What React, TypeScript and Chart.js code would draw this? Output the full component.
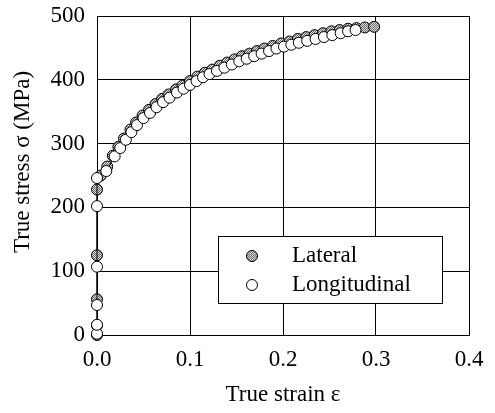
import React, { useEffect, useRef } from "react";
import { Chart, registerables } from "chart.js";

Chart.register(...registerables);

const latStrain = [0, 0, 0, 0, 0, 0.004, 0.011, 0.017, 0.023, 0.029, 0.036, 0.042, 0.049, 0.056, 0.063, 0.07, 0.077, 0.085, 0.092, 0.1, 0.108, 0.116, 0.124, 0.132, 0.14, 0.148, 0.156, 0.164, 0.172, 0.18, 0.189, 0.198, 0.207, 0.216, 0.225, 0.234, 0.243, 0.252, 0.261, 0.27, 0.279, 0.288, 0.298];
const latStress = [0, 15, 56, 125, 228, 250, 264, 281, 295, 308, 322, 333, 344, 353, 362, 370, 377, 385, 391, 398, 405, 411, 416, 422, 427, 432, 437, 441, 445, 449, 453, 457, 460, 464, 467, 470, 473, 476, 478, 480, 481, 482, 483];

const longStrain = [0, 0, 0, 0, 0, 0, 0.01, 0.019, 0.025, 0.031, 0.037, 0.043, 0.05, 0.057, 0.064, 0.071, 0.078, 0.086, 0.093, 0.1, 0.107, 0.114, 0.121, 0.129, 0.137, 0.145, 0.153, 0.161, 0.169, 0.177, 0.185, 0.193, 0.201, 0.209, 0.217, 0.226, 0.235, 0.244, 0.253, 0.262, 0.27, 0.278];
const longStress = [2, 16, 47, 107, 202, 246, 257, 280, 293, 306, 318, 329, 340, 348, 357, 365, 372, 380, 386, 392, 398, 404, 409, 414, 419, 424, 429, 433, 437, 441, 445, 449, 452, 455, 458, 461, 464, 467, 470, 473, 476, 478];

const seriesLabels = ["Lateral", "Longitudinal"];
const xTicks = [0, 0.1, 0.2, 0.3, 0.4];
const yTicks = [0, 100, 200, 300, 400, 500];
const xTitle = "True strain ε";
const yTitle = "True stress σ (MPa)";

const FONT = "'Liberation Serif', 'Times New Roman', serif";
const FS = 23;

function makeStipple(): CanvasPattern | string {
  const c = document.createElement("canvas");
  c.width = 2;
  c.height = 2;
  const g = c.getContext("2d");
  if (!g) return "#aaa";
  g.fillStyle = "#dcdcdc";
  g.fillRect(0, 0, 2, 2);
  g.fillStyle = "#6a6a6a";
  g.fillRect(0, 0, 1, 1);
  g.fillRect(1, 1, 1, 1);
  const p = g.createPattern(c, "repeat");
  return p || "#aaa";
}

export default function App() {
  const ref = useRef<HTMLCanvasElement>(null);
  useEffect(() => {
    if (!ref.current) return;
    const stipple = makeStipple();
    const fills = [stipple, "#ffffff"];

    const overlayPlugin = {
      id: "overlay",
      afterDraw(chart: any) {
        const ctx = chart.ctx;
        const x = chart.scales.x;
        const y = chart.scales.y;
        const bx = Math.round(x.getPixelForValue(0.13));
        const by = Math.round(y.getPixelForValue(155));
        const bw = 224;
        const bh = 67;
        ctx.save();
        ctx.fillStyle = "#fff";
        ctx.fillRect(bx, by, bw, bh);
        ctx.strokeStyle = "#000";
        ctx.lineWidth = 1;
        ctx.strokeRect(bx + 0.5, by + 0.5, bw, bh);
        ctx.font = `${FS}px ${FONT}`;
        ctx.textBaseline = "middle";
        seriesLabels.forEach((lab, i) => {
          const cy = by + 20 + i * 29;
          ctx.beginPath();
          ctx.arc(bx + 34, cy, 5.5, 0, Math.PI * 2);
          ctx.fillStyle = fills[i] as any;
          ctx.fill();
          ctx.strokeStyle = "#000";
          ctx.stroke();
          ctx.fillStyle = "#000";
          ctx.fillText(lab, bx + 74, cy);
        });
        ctx.translate(23, 162);
        ctx.rotate(-Math.PI / 2);
        ctx.textAlign = "center";
        ctx.textBaseline = "middle";
        ctx.fillStyle = "#000";
        ctx.fillText(yTitle, 0, 0);
        ctx.restore();
      },
    };

    const chart = new Chart(ref.current, {
      type: "scatter",
      data: {
        datasets: [
          {
            label: seriesLabels[0],
            data: latStrain.map((s, i) => ({ x: s, y: latStress[i] })),
            showLine: true,
            borderColor: "#000",
            borderWidth: 1,
            pointBackgroundColor: stipple as any,
            pointBorderColor: "#000",
            pointBorderWidth: 1,
            pointRadius: 5.5,
            clip: false as any,
            order: 1,
          },
          {
            label: seriesLabels[1],
            data: longStrain.map((s, i) => ({ x: s, y: longStress[i] })),
            showLine: true,
            borderColor: "#000",
            borderWidth: 1,
            pointBackgroundColor: "#fff",
            pointBorderColor: "#000",
            pointBorderWidth: 1,
            pointRadius: 5.5,
            clip: false as any,
            order: 0,
          },
        ],
      },
      options: {
        responsive: false,
        animation: false,
        layout: { padding: { top: 16, right: 26, left: 0, bottom: 0 } },
        plugins: { legend: { display: false }, tooltip: { enabled: false } },
        scales: {
          x: {
            type: "linear",
            min: 0,
            max: 0.4,
            afterBuildTicks: (s: any) => {
              s.ticks = xTicks.map((v) => ({ value: v }));
            },
            afterFit: (s: any) => {
              s.height = 78;
              s.paddingLeft = 0;
              s.paddingRight = 0;
            },
            ticks: {
              color: "#000",
              font: { family: FONT, size: FS },
              padding: 11,
              callback: (v: any) => Number(v).toFixed(1),
            },
            grid: { color: "#000", lineWidth: 1, drawTicks: false },
            border: { color: "#000", width: 1 },
            title: {
              display: true,
              text: xTitle,
              color: "#000",
              font: { family: FONT, size: FS },
              padding: { top: 0, bottom: 4 },
            },
          },
          y: {
            type: "linear",
            min: 0,
            max: 500,
            afterBuildTicks: (s: any) => {
              s.ticks = yTicks.map((v) => ({ value: v }));
            },
            afterFit: (s: any) => {
              s.width = 97;
              s.paddingTop = 0;
              s.paddingBottom = 0;
            },
            ticks: {
              color: "#000",
              font: { family: FONT, size: FS },
              padding: 12,
            },
            grid: { color: "#000", lineWidth: 1, drawTicks: false },
            border: { color: "#000", width: 1 },
            title: { display: false },
          },
        },
      },
      plugins: [overlayPlugin],
    });
    return () => chart.destroy();
  }, []);

  return (
    <div style={{ position: "fixed", left: 0, top: 0, width: 495, height: 413, background: "#fff" }}>
      <canvas ref={ref} width={495} height={413} />
    </div>
  );
}
